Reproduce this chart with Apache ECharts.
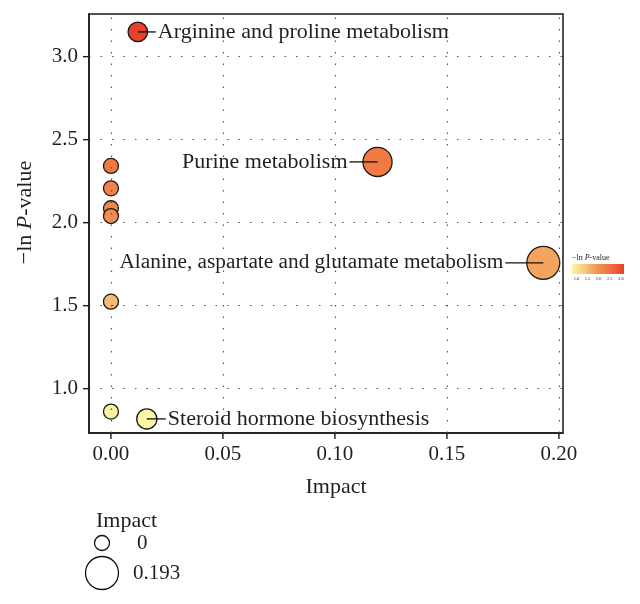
<!DOCTYPE html>
<html><head><meta charset="utf-8">
<script src="https://cdn.jsdelivr.net/npm/echarts@6/dist/echarts.min.js"></script>
<style>html,body{margin:0;padding:0;background:#fff}#c{width:640px;height:604px}</style>
</head><body><div id="c"></div>
<script>
// ---- data ----
const pathwayNames = ['Arginine and proline metabolism', 'Purine metabolism',
  'Alanine, aspartate and glutamate metabolism', 'Steroid hormone biosynthesis',
  '', '', '', '', '', ''];
const impactValues = [0.012, 0.119, 0.193, 0.016, 0, 0, 0, 0, 0, 0];
const negLnPValues = [3.149, 2.366, 1.758, 0.818, 2.342, 2.207, 2.087, 2.040, 1.524, 0.862];
const xTickValues = [0, 0.05, 0.10, 0.15, 0.20];
const yTickValues = [1.0, 1.5, 2.0, 2.5, 3.0];
const colorTickValues = [1.0, 1.5, 2.0, 2.5, 3.0];
const sizeLegendValues = [0, 0.193];

// ---- styling / layout ----
const FONT = '"Liberation Serif", "Times New Roman", serif';
const TXT = '#231f20';
const COLORS = ['#fcf5a8', '#f8c878', '#f29050', '#f06e3c', '#e8402a'];
const CMIN = 0.8, CMAX = 3.14;
const maxImpact = Math.max(...impactValues);
const sizeFn = v => 15 + 18 * Math.sqrt(v / maxImpact);
const labelLayout = {
  'Arginine and proline metabolism': {side: 1, len: 18, size: 22},
  'Purine metabolism': {side: -1, len: 28, size: 22},
  'Alanine, aspartate and glutamate metabolism': {side: -1, len: 38, size: 21.3},
  'Steroid hormone biosynthesis': {side: 1, len: 19, size: 22}
};
const X_MIN = -0.0098, X_MAX = 0.2018, Y_MIN = 0.733, Y_MAX = 3.257;
const TICK_LEN = 6;

const points = impactValues.map((v, i) => [v, negLnPValues[i], pathwayNames[i]]);
const labelled = points.filter(p => p[2] !== '');

const chart = echarts.init(document.getElementById('c'), null, {renderer: 'canvas'});
const G = {left: 89, top: 14, right: 640 - 563, bottom: 604 - 433};

const gradStops = COLORS.map((c, i) => ({offset: i / (COLORS.length - 1), color: c}));
const barX = 572, barW = 52, barY = 264, barH = 10;

const graphics = [
  {type: 'text', left: 96, top: 510, style: {text: 'Impact', font: '22px ' + FONT, fill: TXT}},
  {type: 'circle', shape: {cx: 102, cy: 543, r: sizeFn(sizeLegendValues[0]) / 2},
    style: {fill: '#fff', stroke: '#111', lineWidth: 1.3}},
  {type: 'text', x: 137, y: 543, style: {text: String(sizeLegendValues[0]), font: '21px ' + FONT, fill: TXT, verticalAlign: 'middle'}},
  {type: 'circle', shape: {cx: 102, cy: 573, r: sizeFn(sizeLegendValues[1]) / 2},
    style: {fill: '#fff', stroke: '#111', lineWidth: 1.3}},
  {type: 'text', x: 133, y: 573, style: {text: String(sizeLegendValues[1]), font: '21px ' + FONT, fill: TXT, verticalAlign: 'middle'}},
  {type: 'text', x: barX, y: 258, style: {
    text: '−ln {i|P}-value', font: '8px ' + FONT, fill: TXT, verticalAlign: 'middle',
    rich: {i: {fontStyle: 'italic', fontSize: 8, fontFamily: FONT, fill: TXT}}}},
  {type: 'rect', shape: {x: barX, y: barY, width: barW, height: barH},
    style: {fill: new echarts.graphic.LinearGradient(0, 0, 1, 0, gradStops)}}
];
colorTickValues.forEach(v => {
  const x = barX + (v - CMIN) / (CMAX - CMIN) * barW;
  graphics.push({type: 'text', x: x, y: barY + barH + 5, style: {
    text: v.toFixed(1), font: '4.5px ' + FONT, fill: TXT, align: 'center', verticalAlign: 'middle'}});
});

const axisLineStyle = {show: true, onZero: false, lineStyle: {color: '#1a1a1a', width: 1.5}};
const tickStyle = {stroke: '#1a1a1a', lineWidth: 1.4};

const option = {
  backgroundColor: '#fff',
  animation: false,
  grid: Object.assign({show: true, borderColor: '#1a1a1a', borderWidth: 1.5, backgroundColor: 'transparent'}, G),
  xAxis: {
    type: 'value', min: X_MIN, max: X_MAX,
    axisLine: axisLineStyle,
    splitLine: {show: false},
    axisTick: {show: false},
    axisLabel: {customValues: xTickValues, formatter: v => v.toFixed(2), fontFamily: FONT, fontSize: 21, color: TXT, margin: 11},
    name: 'Impact', nameLocation: 'middle', nameGap: 43,
    nameTextStyle: {fontFamily: FONT, fontSize: 22, color: TXT, padding: [0, 0, 0, 20]}
  },
  yAxis: {
    type: 'value', min: Y_MIN, max: Y_MAX,
    axisLine: axisLineStyle,
    splitLine: {show: false},
    axisTick: {show: false},
    axisLabel: {customValues: yTickValues, formatter: v => v.toFixed(1), fontFamily: FONT, fontSize: 21, color: TXT, margin: 11},
    name: '−ln {i|P}-value', nameLocation: 'middle', nameGap: 53,
    nameTextStyle: {fontFamily: FONT, fontSize: 22, color: TXT, padding: [0, 0, 0, 22],
      rich: {i: {fontStyle: 'italic', fontFamily: FONT, fontSize: 22, color: TXT}}}
  },
  visualMap: {
    show: false, type: 'continuous', min: CMIN, max: CMAX, dimension: 1, seriesIndex: 1,
    inRange: {color: COLORS}
  },
  series: [
    {
      type: 'line', data: [], z: 1, silent: true,
      markLine: {
        silent: true, symbol: 'none', animation: false,
        label: {show: false},
        lineStyle: {type: [1.5, 10], color: '#555', width: 1.2},
        data: [...xTickValues.map(v => ({xAxis: v})), ...yTickValues.map(v => ({yAxis: v}))]
      }
    },
    {
      type: 'scatter', z: 2, clip: false,
      data: points,
      symbolSize: d => sizeFn(d[0]),
      itemStyle: {borderColor: '#1a1a1a', borderWidth: 1.3, opacity: 1}
    },
    {
      type: 'custom', z: 3, clip: false, silent: true,
      data: labelled,
      renderItem: (params, api) => {
        const p = api.coord([api.value(0), api.value(1)]);
        const name = labelled[params.dataIndex][2];
        const L = labelLayout[name];
        const x2 = p[0] + L.side * L.len;
        return {type: 'group', children: [
          {type: 'line', shape: {x1: p[0], y1: p[1], x2: x2, y2: p[1]}, style: {stroke: '#111', lineWidth: 1.3}},
          {type: 'text', x: x2 + L.side * 2, y: p[1], style: {
            text: name, font: L.size + 'px ' + FONT, fill: TXT,
            align: L.side > 0 ? 'left' : 'right', verticalAlign: 'middle'}}
        ]};
      }
    },
    {
      type: 'custom', z: 4, clip: false, silent: true,
      data: xTickValues.map(v => [v, Y_MIN]),
      renderItem: (params, api) => {
        const p = api.coord([api.value(0), api.value(1)]);
        const yb = params.coordSys.y + params.coordSys.height;
        return {type: 'line', shape: {x1: p[0], y1: yb, x2: p[0], y2: yb + TICK_LEN}, style: tickStyle};
      }
    },
    {
      type: 'custom', z: 4, clip: false, silent: true,
      data: yTickValues.map(v => [X_MIN, v]),
      renderItem: (params, api) => {
        const p = api.coord([api.value(0), api.value(1)]);
        const xl = params.coordSys.x;
        return {type: 'line', shape: {x1: xl, y1: p[1], x2: xl - TICK_LEN, y2: p[1]}, style: tickStyle};
      }
    }
  ],
  graphic: graphics
};
chart.setOption(option);
</script></body></html>
